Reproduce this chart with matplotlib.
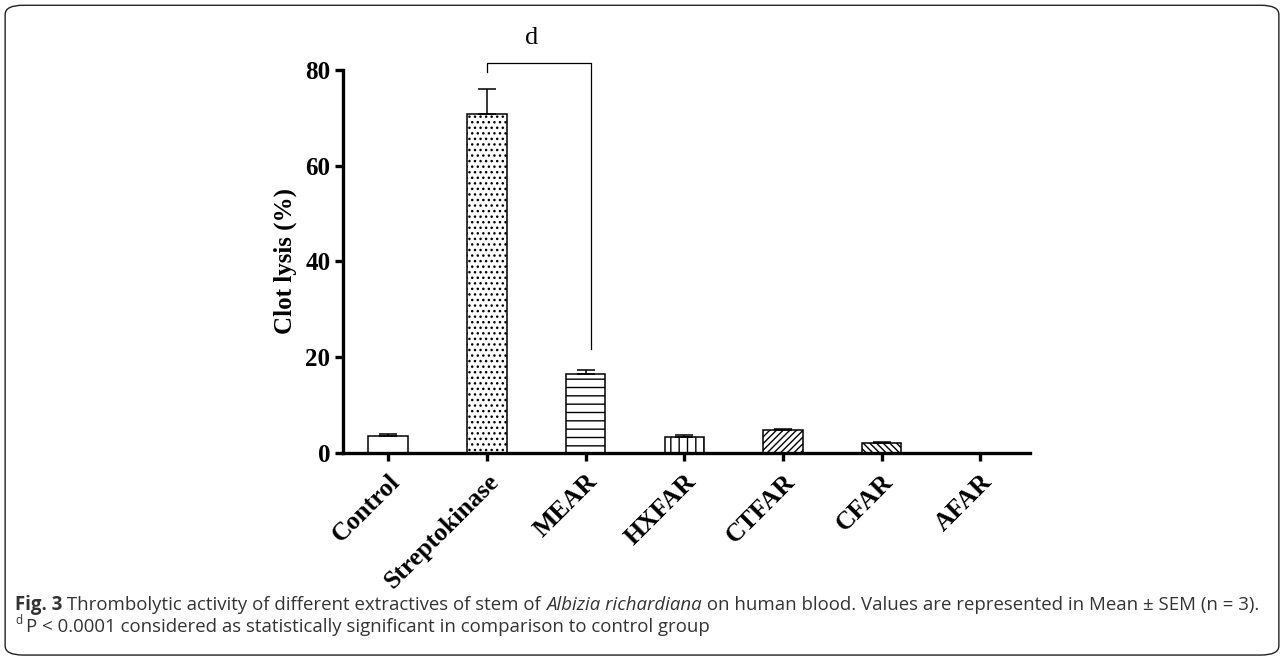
import matplotlib
matplotlib.use("Agg")
import matplotlib.pyplot as plt
from matplotlib.patches import FancyBboxPatch
import numpy as np

# データ
groups = ["Control", "Streptokinase", "MEAR", "HXFAR", "CTFAR", "CFAR", "AFAR"]
means = [3.5, 70.9, 16.6, 3.3, 4.7, 2.1, 0.0]
sems = [0.4, 5.2, 0.8, 0.4, 0.3, 0.2, 0.0]
hatches = ["", "...", "--", "||", "/////", "\\\\\\\\\\", ""]
yticks = [0, 20, 40, 60, 80]

plt.rcParams["hatch.linewidth"] = 1.0
serif_bold = dict(family="Liberation Serif", weight="bold")

fig = plt.figure(figsize=(12.84, 6.59), dpi=100)
ax = fig.add_axes([0.267, 0.3126, 0.535, 0.5812])

x = np.arange(len(groups))
for xi, m, h in zip(x, means, hatches):
    ax.bar(xi, m, width=0.4, color="white", edgecolor="black",
           linewidth=1.1, hatch=h, zorder=2)
ax.errorbar(x, means, yerr=[np.zeros(len(sems)), sems], fmt="none",
            ecolor="black", elinewidth=1.1, capsize=6.5, capthick=1.1, zorder=3)

ax.set_xlim(-0.46, 6.5)
ax.set_ylim(0, 80)
ax.set_yticks(yticks)
ax.set_xticks(x)
ax.set_xticklabels(groups, rotation=45, ha="right", va="top",
                   rotation_mode="anchor", fontsize=18.5, **serif_bold)
ax.set_yticklabels([str(t) for t in yticks], fontsize=18, **serif_bold)
ax.set_ylabel("Clot lysis (%)", fontsize=18, labelpad=6, **serif_bold)

for s in ["top", "right"]:
    ax.spines[s].set_visible(False)
for s in ["left", "bottom"]:
    ax.spines[s].set_linewidth(2.4)
ax.tick_params(axis="both", direction="out", length=6, width=2.4, pad=3)
ax.tick_params(axis="x", pad=6)

# 有意差のブラケット
y_br = 81.5
ax.plot([1, 1, 2.05, 2.05], [79.5, y_br, y_br, 21.8], color="black",
        lw=0.9, clip_on=False)
ax.text(1.45, 84.3, "d", ha="center", va="bottom", fontsize=19,
        family="Liberation Serif", clip_on=False)

# 枠
fig.patches.append(FancyBboxPatch((0.004, 0.006), 0.992, 0.986,
                                  boxstyle="round,pad=0,rounding_size=0.014",
                                  transform=fig.transFigure, fill=False,
                                  edgecolor="#222222", lw=1.0))

# キャプション
cap_font = "Open Sans"
cap_size = 13.4
fig.canvas.draw()
r = fig.canvas.get_renderer()


def put(parts, x0, y0):
    xx = x0
    for txt, kw in parts:
        t = fig.text(xx, y0, txt, fontsize=cap_size, family=cap_font,
                     va="baseline", ha="left", color="#333333", **kw)
        bb = t.get_window_extent(renderer=r)
        xx += bb.width / fig.bbox.width


line1 = [("Fig. 3", dict(weight="bold")),
         (" Thrombolytic activity of different extractives of stem of ", {}),
         ("Albizia richardiana", dict(style="italic")),
         (" on human blood. Values are represented in Mean ± SEM (n = 3).", {})]
put(line1, 15 / 1284, 1 - 610 / 659)
fig.text(15 / 1284, 1 - 624 / 659, "d", fontsize=8.5, family=cap_font,
         color="#333333", va="baseline")
put([("P < 0.0001 considered as statistically significant in comparison to control group", {})],
    26 / 1284, 1 - 632 / 659)

fig.savefig("out.png", dpi=100)
